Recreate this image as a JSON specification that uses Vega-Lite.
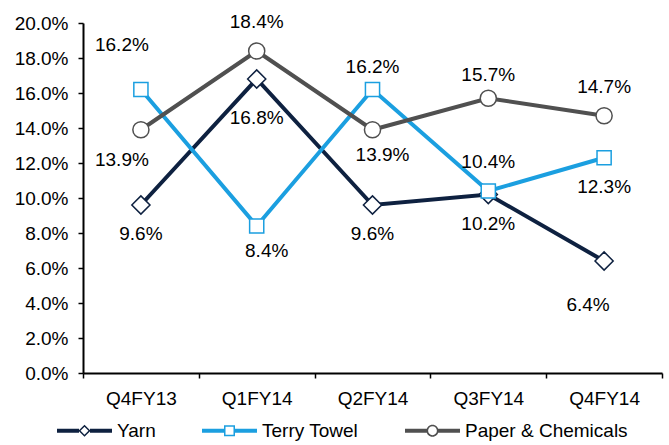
{
  "$schema": "https://vega.github.io/schema/vega-lite/v6.json",
  "width": 579,
  "height": 350,
  "autosize": {"type": "none"},
  "padding": {"left": 83, "top": 23, "right": 7, "bottom": 72},
  "background": "white",
  "config": {
    "font": "Liberation Sans",
    "view": {"stroke": null},
    "text": {"font": "Liberation Sans", "fontSize": 19, "color": "black", "baseline": "middle", "align": "center"}
  },
  "data": {
    "values": [
      {"quarter": "Q4FY13", "series": "Yarn", "share": 0.096},
      {"quarter": "Q4FY13", "series": "Terry Towel", "share": 0.162},
      {"quarter": "Q4FY13", "series": "Paper & Chemicals", "share": 0.139},
      {"quarter": "Q1FY14", "series": "Yarn", "share": 0.168},
      {"quarter": "Q1FY14", "series": "Terry Towel", "share": 0.084},
      {"quarter": "Q1FY14", "series": "Paper & Chemicals", "share": 0.184},
      {"quarter": "Q2FY14", "series": "Yarn", "share": 0.096},
      {"quarter": "Q2FY14", "series": "Terry Towel", "share": 0.162},
      {"quarter": "Q2FY14", "series": "Paper & Chemicals", "share": 0.139},
      {"quarter": "Q3FY14", "series": "Yarn", "share": 0.102},
      {"quarter": "Q3FY14", "series": "Terry Towel", "share": 0.104},
      {"quarter": "Q3FY14", "series": "Paper & Chemicals", "share": 0.157},
      {"quarter": "Q4FY14", "series": "Yarn", "share": 0.064},
      {"quarter": "Q4FY14", "series": "Terry Towel", "share": 0.123},
      {"quarter": "Q4FY14", "series": "Paper & Chemicals", "share": 0.147}
    ]
  },
  "encoding": {
    "x": {
      "field": "quarter",
      "type": "nominal",
      "sort": ["Q4FY13", "Q1FY14", "Q2FY14", "Q3FY14", "Q4FY14"],
      "scale": {"paddingInner": 0, "paddingOuter": 0},
      "axis": {
        "title": null,
        "labelAngle": 0,
        "tickBand": "extent",
        "labelFontSize": 19,
        "labelColor": "black",
        "labelFont": "Liberation Sans",
        "labelPadding": 11,
        "tickSize": 5,
        "tickWidth": 1.5,
        "tickColor": "black",
        "domainColor": "black",
        "domainWidth": 2
      }
    },
    "y": {
      "field": "share",
      "type": "quantitative",
      "scale": {"domain": [0, 0.2], "nice": false},
      "axis": {
        "title": null,
        "grid": false,
        "values": [0, 0.02, 0.04, 0.06, 0.08, 0.1, 0.12, 0.14, 0.16, 0.18, 0.2],
        "format": ".1%",
        "labelFontSize": 19,
        "labelColor": "black",
        "labelFont": "Liberation Sans",
        "labelPadding": 10,
        "tickSize": 5,
        "tickWidth": 1.5,
        "tickColor": "black",
        "domainColor": "black",
        "domainWidth": 2
      }
    }
  },
  "layer": [
    {
      "mark": {"type": "line", "strokeWidth": 4},
      "encoding": {
        "color": {
          "field": "series",
          "type": "nominal",
          "scale": {
            "domain": ["Yarn", "Terry Towel", "Paper & Chemicals"],
            "range": ["#0e2140", "#1b9fe0", "#505050"]
          },
          "legend": {
            "title": null,
            "orient": "none",
            "legendX": -26,
            "legendY": 380,
            "direction": "horizontal",
            "symbolSize": 3025,
            "symbolStrokeWidth": 0,
            "labelFontSize": 19,
            "labelFont": "Liberation Sans",
            "labelColor": "black",
            "labelLimit": 400,
            "labelOffset": 5,
            "columnPadding": 46,
            "encode": {
              "symbols": {
                "update": {
                  "shape": {"signal": "datum.value === 'Yarn' ? 'M-1,-0.07H-0.2V0.07H-1Z M0.2,-0.07H1V0.07H0.2Z M0,-0.22L0.22,0L0,0.22L-0.22,0Z M0,-0.145L-0.145,0L0,0.145L0.145,0Z' : datum.value === 'Terry Towel' ? 'M-1,-0.07H-0.2V0.07H-1Z M0.2,-0.07H1V0.07H0.2Z M-0.2,-0.2H0.2V0.2H-0.2Z M-0.145,-0.145V0.145H0.145V-0.145Z' : 'M-1,-0.07H-0.2V0.07H-1Z M0.2,-0.07H1V0.07H0.2Z M-0.22,0A0.22,0.22 0 1,1 0.22,0A0.22,0.22 0 1,1 -0.22,0Z M-0.16,0A0.16,0.16 0 1,0 0.16,0A0.16,0.16 0 1,0 -0.16,0Z'"},
                  "size": {"value": 3025},
                  "fill": {"scale": "color", "field": "value"},
                  "stroke": {"value": "transparent"},
                  "strokeWidth": {"value": 0},
                  "opacity": {"value": 1}
                }
              }
            }
          }
        }
      }
    },
    {
      "transform": [{"filter": "datum.series === 'Yarn'"}],
      "mark": {"type": "point", "shape": "diamond", "size": 330, "filled": true, "fill": "white", "stroke": "#0e2140", "strokeWidth": 1.5, "opacity": 1}
    },
    {
      "transform": [{"filter": "datum.series === 'Terry Towel'"}],
      "mark": {"type": "point", "shape": "square", "size": 200, "filled": true, "fill": "white", "stroke": "#1b9fe0", "strokeWidth": 1.5, "opacity": 1}
    },
    {
      "transform": [{"filter": "datum.series === 'Paper & Chemicals'"}],
      "mark": {"type": "point", "shape": "circle", "size": 260, "filled": true, "fill": "white", "stroke": "#505050", "strokeWidth": 1.5, "opacity": 1}
    },
    {
      "transform": [{"filter": "(datum.quarter === 'Q1FY14' && datum.series === 'Paper & Chemicals') || (datum.quarter === 'Q3FY14' && datum.series === 'Terry Towel') || (datum.quarter === 'Q4FY14' && datum.series === 'Paper & Chemicals')"}],
      "mark": {"type": "text", "dy": -29},
      "encoding": {"text": {"field": "share", "type": "quantitative", "format": ".1%"}}
    },
    {
      "transform": [{"filter": "(datum.quarter === 'Q2FY14' && datum.series === 'Terry Towel') || (datum.quarter === 'Q3FY14' && datum.series === 'Paper & Chemicals')"}],
      "mark": {"type": "text", "dy": -23},
      "encoding": {"text": {"field": "share", "type": "quantitative", "format": ".1%"}}
    },
    {
      "transform": [{"filter": "(datum.quarter === 'Q4FY13' && datum.series === 'Yarn') || (datum.quarter === 'Q2FY14' && datum.series === 'Yarn') || (datum.quarter === 'Q3FY14' && datum.series === 'Yarn') || (datum.quarter === 'Q4FY14' && datum.series === 'Terry Towel')"}],
      "mark": {"type": "text", "dy": 29},
      "encoding": {"text": {"field": "share", "type": "quantitative", "format": ".1%"}}
    },
    {
      "transform": [{"filter": "(datum.quarter === 'Q2FY14' && datum.series === 'Paper & Chemicals') || (datum.quarter === 'Q1FY14' && datum.series === 'Terry Towel')"}],
      "mark": {"type": "text", "dy": 25, "dx": 10},
      "encoding": {"text": {"field": "share", "type": "quantitative", "format": ".1%"}}
    },
    {
      "transform": [{"filter": "datum.quarter === 'Q4FY13' && datum.series === 'Paper & Chemicals'"}],
      "mark": {"type": "text", "dy": 30, "dx": -19},
      "encoding": {"text": {"field": "share", "type": "quantitative", "format": ".1%"}}
    },
    {
      "transform": [{"filter": "datum.quarter === 'Q4FY13' && datum.series === 'Terry Towel'"}],
      "mark": {"type": "text", "dy": -45, "dx": -19},
      "encoding": {"text": {"field": "share", "type": "quantitative", "format": ".1%"}}
    },
    {
      "transform": [{"filter": "datum.quarter === 'Q1FY14' && datum.series === 'Yarn'"}],
      "mark": {"type": "text", "dy": 39},
      "encoding": {"text": {"field": "share", "type": "quantitative", "format": ".1%"}}
    },
    {
      "transform": [{"filter": "datum.quarter === 'Q4FY14' && datum.series === 'Yarn'"}],
      "mark": {"type": "text", "dy": 44, "dx": -16},
      "encoding": {"text": {"field": "share", "type": "quantitative", "format": ".1%"}}
    }
  ]
}
